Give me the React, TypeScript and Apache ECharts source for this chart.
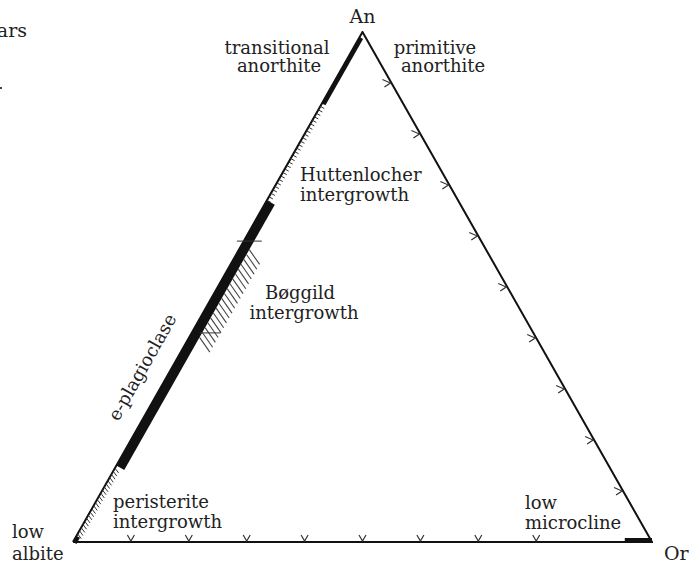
import React, { useEffect, useRef } from "react";
import * as echarts from "echarts";

// Ternary feldspar diagram. Compositions given as [An, Or] in mol % (Ab = 100 - An - Or).
const outlineVertices: [number, number][] = [
  [0, 0],   // Ab (low albite)
  [0, 100], // Or
  [100, 0], // An
  [0, 0],   // back to Ab
];

// Tick marks, every 10 %
const orTicksOnAbOr = [10, 20, 30, 40, 50, 60, 70, 80]; // Or % along Ab–Or join
const anTicksOnOrAn = [10, 20, 30, 40, 50, 60, 70, 80, 90]; // An % along Or–An join

// Plagioclase (Ab–An) join regions, An %
const transitionalAnorthite = [86, 99];
const huttenlocherRange = [67, 86];
const ePlagioclase = [15, 67];
const boggildRange = [41, 59];
const peristeriteRange = [1.6, 15];
const lowAlbiteCorner = [0, 1.2];
// Alkali-feldspar (Ab–Or) join, Or %
const lowMicrocline = [95.3, 100];

// Segments [An0, Or0, An1, Or1] built from the ranges above
const bandSegments = [
  [transitionalAnorthite[0], 0, transitionalAnorthite[1], 0],
  [ePlagioclase[0], 0, ePlagioclase[1], 0],
  [lowAlbiteCorner[0], 0, lowAlbiteCorner[1], 0],
  [0, lowMicrocline[0], 0, lowMicrocline[1]],
];
const bandWidthsPx = [4, 9, 4, 4];

const hatchRanges = [huttenlocherRange, peristeriteRange];
const hatchStyles = [
  { spacing: 4, len: 4.5, dir: [0.88, 0.47] },
  { spacing: 3.6, len: 6, dir: [0.6, 0.8] },
];

const toXY = (an: number, or: number): [number, number] => [or + an / 2, an];

const INK = "#111";
const HATCH = "#333";
const FONT = '"DejaVu Serif", serif';

function edgeFrame(api: any, a0: number, o0: number, a1: number, o1: number) {
  const p0 = api.coord(toXY(a0, o0));
  const p1 = api.coord(toXY(a1, o1));
  const c = api.coord(toXY(100 / 3, 100 / 3));
  let dx = p1[0] - p0[0];
  let dy = p1[1] - p0[1];
  const L = Math.hypot(dx, dy) || 1;
  dx /= L;
  dy /= L;
  let nx = -dy;
  let ny = dx;
  if (nx * (c[0] - p0[0]) + ny * (c[1] - p0[1]) < 0) {
    nx = -nx;
    ny = -ny;
  }
  return { p0, p1, dx, dy, nx, ny, L };
}

function txt(text: string, x: number, baseline: number, align = "left", size = 18, extra: any = {}) {
  return {
    type: "text",
    x,
    y: baseline - (5.3 * size) / 18,
    silent: true,
    ...extra,
    style: {
      text,
      x: 0,
      y: 0,
      font: `${size}px ${FONT}`,
      lineHeight: size - 1,
      fill: "#222",
      align,
      textAlign: align,
      verticalAlign: "middle",
      textVerticalAlign: "middle",
    },
  };
}

export default function App() {
  const ref = useRef<HTMLDivElement>(null);

  useEffect(() => {
    if (!ref.current) return;
    const chart = echarts.init(ref.current, null, { renderer: "svg" });

    const option: any = {
      animation: false,
      backgroundColor: "#fff",
      grid: { left: 73, right: 41, top: 32, bottom: 21 },
      xAxis: { type: "value", min: 0, max: 100, show: false },
      yAxis: { type: "value", min: 0, max: 100, show: false },
      series: [
        {
          type: "line",
          data: outlineVertices.map(([an, or]) => toXY(an, or)),
          symbol: "none",
          lineStyle: { color: INK, width: 2, join: "miter" },
          z: 3,
        },
        {
          type: "custom",
          coordinateSystem: "cartesian2d",
          data: bandSegments,
          z: 4,
          renderItem: (params: any, api: any) => {
            const f = edgeFrame(api, api.value(0), api.value(1), api.value(2), api.value(3));
            const w = bandWidthsPx[params.dataIndex];
            return {
              type: "polygon",
              shape: {
                points: [
                  f.p0,
                  f.p1,
                  [f.p1[0] + f.nx * w, f.p1[1] + f.ny * w],
                  [f.p0[0] + f.nx * w, f.p0[1] + f.ny * w],
                ],
              },
              style: { fill: INK },
            };
          },
        },
        {
          type: "custom",
          coordinateSystem: "cartesian2d",
          data: hatchRanges,
          z: 4,
          renderItem: (params: any, api: any) => {
            const f = edgeFrame(api, api.value(0), 0, api.value(1), 0);
            const st = hatchStyles[params.dataIndex];
            const n = Math.floor(f.L / st.spacing);
            const children: any[] = [];
            for (let i = 0; i <= n; i++) {
              const x = f.p0[0] + f.dx * i * st.spacing;
              const y = f.p0[1] + f.dy * i * st.spacing;
              children.push({
                type: "line",
                shape: { x1: x, y1: y, x2: x + st.dir[0] * st.len, y2: y + st.dir[1] * st.len },
                style: { stroke: HATCH, lineWidth: 1 },
              });
            }
            return { type: "group", children };
          },
        },
        {
          type: "custom",
          coordinateSystem: "cartesian2d",
          data: [boggildRange],
          z: 4,
          renderItem: (params: any, api: any) => {
            const f = edgeFrame(api, api.value(0), 0, api.value(1), 0);
            const off = 9;
            const spacing = 5.6;
            const len = 18;
            const dir = [0.574, 0.819];
            const n = Math.floor(f.L / spacing);
            const children: any[] = [];
            for (let i = 0; i <= n; i++) {
              const x = f.p0[0] + f.dx * i * spacing + f.nx * off;
              const y = f.p0[1] + f.dy * i * spacing + f.ny * off;
              children.push({
                type: "line",
                shape: { x1: x, y1: y, x2: x + dir[0] * len, y2: y + dir[1] * len },
                style: { stroke: "#444", lineWidth: 1.1 },
              });
            }
            children.push({
              type: "line",
              shape: { x1: f.p1[0] - 7, y1: f.p1[1], x2: f.p1[0] + 18, y2: f.p1[1] },
              style: { stroke: HATCH, lineWidth: 1 },
            });
            children.push({
              type: "line",
              shape: { x1: f.p0[0] + 8, y1: f.p0[1], x2: f.p0[0] + 29, y2: f.p0[1] },
              style: { stroke: HATCH, lineWidth: 1 },
            });
            return { type: "group", children };
          },
        },
        {
          type: "custom",
          coordinateSystem: "cartesian2d",
          data: orTicksOnAbOr.map((t) => [t]),
          z: 4,
          renderItem: (params: any, api: any) => {
            const p = api.coord(toXY(0, api.value(0)));
            return {
              type: "polyline",
              shape: { points: [[p[0] - 3.5, p[1] - 7], [p[0], p[1] - 1], [p[0] + 3.5, p[1] - 7]] },
              style: { stroke: HATCH, lineWidth: 1.2, fill: "none" },
            };
          },
        },
        {
          type: "custom",
          coordinateSystem: "cartesian2d",
          data: anTicksOnOrAn.map((t) => [t]),
          z: 4,
          renderItem: (params: any, api: any) => {
            const t = api.value(0);
            const p = api.coord(toXY(t, 100 - t));
            return {
              type: "polyline",
              shape: { points: [[p[0] - 9, p[1] - 3.5], [p[0] - 1, p[1]], [p[0] - 7, p[1] + 4]] },
              style: { stroke: HATCH, lineWidth: 1.2, fill: "none" },
            };
          },
        },
      ],
      graphic: [
        txt("ars", 27, 36, "right", 19),
        { type: "rect", shape: { x: 0, y: 87, width: 2, height: 2 }, style: { fill: "#444" }, silent: true },
        txt("An", 362.5, 22, "center", 19),
        txt("transitional", 277, 53, "center"),
        txt("anorthite", 279, 71, "center"),
        txt("primitive", 435, 53, "center"),
        txt("anorthite", 443, 71, "center"),
        txt("Huttenlocher", 300, 180, "left"),
        txt("intergrowth", 300, 200, "left"),
        txt("Bøggild", 300, 298, "center"),
        txt("intergrowth", 304, 318, "center"),
        {
          type: "text",
          x: 142,
          y: 367,
          rotation: (60.46 * Math.PI) / 180,
          silent: true,
          style: {
            text: "e-plagioclase",
            x: 0,
            y: 0,
            font: `18px ${FONT}`,
            fill: "#222",
            align: "center",
            textAlign: "center",
            verticalAlign: "middle",
            textVerticalAlign: "middle",
          },
        },
        txt("peristerite", 113, 507, "left"),
        txt("intergrowth", 113, 527, "left"),
        txt("low", 525, 508, "left"),
        txt("microcline", 525, 528, "left"),
        txt("low", 12, 537, "left"),
        txt("albite", 12, 559, "left"),
        txt("Or", 664, 559, "left", 19),
      ],
    };

    chart.setOption(option);
    return () => chart.dispose();
  }, []);

  return (
    <div
      ref={ref}
      style={{ position: "absolute", left: 0, top: 0, width: 693, height: 563, background: "#fff" }}
    />
  );
}
